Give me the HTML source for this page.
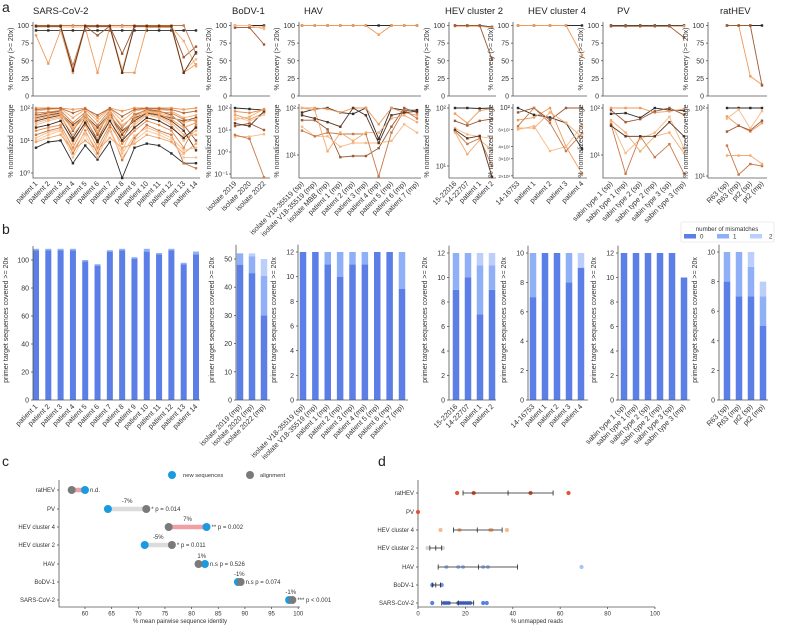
<!DOCTYPE html>
<html><head><meta charset="utf-8"><style>
html,body{margin:0;padding:0;background:#fff;}
svg{display:block;font-family:"Liberation Sans",sans-serif;}
</style></head><body>
<svg id="fig" width="799" height="628" viewBox="0 0 799 628"></svg>
<script>
// ---------- DATA ----------
const sarsCats=['patient 1','patient 2','patient 3','patient 4','patient 5','patient 6','patient 7','patient 8','patient 9','patient 10','patient 11','patient 12','patient 13','patient 14'];
const bodvCatsA=['isolate 2019','isolate 2020','isolate 2022'];
const bodvCatsB=['isolate 2019 (mp)','isolate 2020 (mp)','isolate 2022 (mp)'];
const havCatsA=['isolate V18-35519 (sp)','isolate V18-35519 (mp)','isolate MBB (mp)','patient 1 (mp)','patient 2 (mp)','patient 3 (mp)','patient 4 (mp)','patient 5 (mp)','patient 6 (mp)','patient 7 (mp)'];
const havCatsB=['isolate V18-35519 (sp)','isolate V18-35519 (mp)','patient 1 (mp)','patient 2 (mp)','patient 3 (mp)','patient 4 (mp)','patient 5 (mp)','patient 6 (mp)','patient 7 (mp)'];
const hev2Cats=['15-22016','14-22707','patient 1','patient 2'];
const hev4Cats=['14-16753','patient 1','patient 2','patient 3','patient 4'];
const pvCats=['sabin type 1 (sp)','sabin type 1 (mp)','sabin type 2 (sp)','sabin type 2 (mp)','sabin type 3 (sp)','sabin type 3 (mp)'];
const ratCats=['R63 (sp)','R63 (mp)','pt2 (sp)','pt2 (mp)'];

const sarsRec=[[93,93,93,93,93,93,93,93,93,93,93,93,93,93],[86,46,93,33,97,33,97,33,33,97,97,97,33,45],[99,99,99,43,99,86,99,60,99,99,99,99,55,70],[99,99,99,40,99,99,99,38,99,99,99,99,35,52],[100,100,100,100,100,100,100,100,100,100,100,100,100,60],[98,98,98,98,98,98,98,98,98,98,98,98,78,42],[99,99,99,36,99,99,99,33,99,99,99,99,33,62]];
const sarsCov=[[6,9,10,2,7,2.6,9,0.7,6,8,7,4,2,2],[100,100,100,90,100,50,100,80,100,100,100,100,90,100],[60,70,80,20,70,15,80,10,60,90,80,60,30,10],[30,40,50,8,40,8,50,5,30,60,50,30,10,20],[15,20,25,4,20,4,25,2.5,12,30,20,15,2,1.4],[80,90,95,50,90,40,95,40,80,95,90,80,50,60],[40,50,60,12,50,10,60,20,40,70,60,40,20,5],[20,25,30,6,30,6,30,8,20,40,30,20,6,30],[10,15,20,3,15,3,20,3,10,20,15,10,3,3],[50,60,70,30,60,25,70,15,50,70,60,50,40,50],[9,12,15,5,10,5,12,6,8,15,12,9,4,8],[70,75,85,35,75,30,85,25,65,85,75,70,45,40],[35,45,55,15,45,12,55,12,35,65,55,35,15,15],[25,30,40,10,35,9,40,10,25,50,40,25,12,25],[45,55,65,22,55,18,65,18,45,75,65,45,25,35],[12,18,22,5,18,5,22,4,14,25,18,12,5,6],[90,95,98,70,95,60,98,55,90,98,95,90,70,80],[55,65,75,25,65,20,75,30,55,80,70,55,35,45]];
const bodvRec=[[100,100,100],[97,97,98],[97,97,73],[100,100,95]];
const bodvCov=[[100,90,80],[50,30,60],[15,20,10],[5,5,6.5],[6,4,0.07],[30,40,90],[20,15,70],[70,60,85],[40,25,50]];
const havRec=[[100,100,100,100,100,100,100,100,100,100],[100,100,100,100,100,100,87,100,100,100]];
const havCov=[[80,95,100,80,75,100,22,100,90,90],[100,100,95,80,100,100,45,100,80,70],[55,55,35,9,9.5,9.5,14,40,100,80],[40,25,25,15,18,18,18,20,45,30],[33,25,30,28,28,28,3.5,30,90,60],[100,90,12,30,20,30,30,60,70,50],[70,60,50,40,100,70,18,70,80,85]];
const hev2Rec=[[100,100,100,98],[99,99,99,97],[100,100,100,52]];
const hev2Cov=[[100,100,98,100],[80,55,90,98],[60,50,60,65],[45,35,32,30],[40,24,30,10],[38,16,28,19],[42,30,33,6.5]];
const hev4Rec=[[100,100,100,100,100],[100,100,100,100,58]];
const hev4Cov=[[100,85,80,70,38],[75,80,100,40,21],[90,100,75,100,100],[60,65,36,40,65],[65,100,70,36,55],[62,62,90,70,50]];
const pvRec=[[100,100,100,100,100,100],[99,99,99,99,99,99],[99,99,99,99,99,83]];
const pvCov=[[75,78,62,100,90,88],[100,100,100,80,85,95],[90,50,58,85,100,72],[50,11,22,30,65,14],[45,4,25,9,17,4],[55,30,12,25,30,11],[42,25,25,25,50,25]];
const ratRec=[[100,100,100,100],[100,100,28,16],[100,100,100,15]];
const ratCov=[[100,100,100,100],[75,55,45,60],[45,55,47,65],[70,95,50,90],[28,10.5,15,14],[20,20,20,15]];

const sarsM0=[107,107,107,107,99,96,106,107,101,106,104,107,97,104];
const sarsM1=[1,1,1,1,1,1,1,1,1,2,1,1,1,2];
const sarsM2=[0,0,0,0,0,0,0,0,0,0,0,0,0,0];
const bodvM0=[48,45,30], bodvM1=[4,6,14], bodvM2=[0,1,6];
const havM0=[12,12,11,10,11,11,12,12,9], havM1=[0,0,1,2,1,1,0,0,3], havM2=[0,0,0,0,0,0,0,0,0];
const hev2M0=[9,10,7,9], hev2M1=[3,2,4,2], hev2M2=[0,0,1,1];
const hev4M0=[7,10,10,8,9], hev4M1=[3,0,0,2,0], hev4M2=[0,0,0,0,1];
const pvM0=[12,12,12,12,12,10], pvM1=[0,0,0,0,0,0], pvM2=[0,0,0,0,0,0];
const ratM0=[8,7,7,5], ratM1=[2,3,2,2], ratM2=[0,0,1,1];

const cCats=['ratHEV','PV','HEV cluster  4','HEV cluster  2','HAV','BoDV-1','SARS-CoV-2'];
const cNew=[60,64.3,82.8,71.2,82.5,88.7,98.3];
const cAln=[57.5,71.5,75.7,76.3,81.3,89.2,98.9];
const cPct=['','-7%','7%','-5%','1%','-1%','-1%'];
const cStat=['n.d.','* p = 0.014','** p = 0.002','* p = 0.011','n.s p = 0.526','n.s p = 0.074','*** p < 0.001'];
const cTicks=[60,65,70,75,80,85,90,95,100];

const dCats=['ratHEV','PV','HEV cluster  4','HEV cluster  2','HAV','BoDV-1','SARS-CoV-2'];
const dMean=[38,null,25,7.5,25.5,7.5,17];
const dLo=[19,null,15,5,8.5,6,10];
const dHi=[57,null,35.5,10,42,9.5,23.5];
const dPts=[[16.5,23.5,47.5,63.5],[0],[9.5,17.5,30.5,31,37.5],[4,10.5],[12,17,19,27.5,29.5,69],[6,10],[6,11,12,13,17,18,19,20,21,22,27.5,29]];
const dTicks=[0,20,40,60,80,100];

// ---------- HELPERS ----------
const NS='http://www.w3.org/2000/svg';
const svg=document.getElementById('fig');
function mk(tag,attrs,parent){const e=document.createElementNS(NS,tag);for(const k in attrs)e.setAttribute(k,attrs[k]);(parent||svg).appendChild(e);return e;}
function txt(x,y,s,attrs,parent){const t=mk('text',Object.assign({x:x,y:y},attrs||{}),parent);t.textContent=s;return t;}
const palette=['#2b2b2b','#ee9a5a','#9b5a35','#f7b985','#c87848','#f4ab70','#5a3320','#e88a4a','#f9c497','#7a4428','#f2a466','#d0844e','#f6b27a','#3d2a20','#eea060','#f8bd8c','#b86a3e','#f3ad74'];
const AX='#555', TX='#333';

// ---------- PANEL LETTERS ----------
[['a',2,12],['b',2,234],['c',2,466],['d',378,466]].forEach(function(p){
  const t=txt(p[1],p[2],p[0],{'font-size':14,fill:'#222'});
  
  
});

// ---------- PANEL A ----------
const aPanels=[
 {id:'sars',title:'SARS-CoV-2',tx:33,x0:33,x1:200,c0:36,c1:196,cats:sarsCats,rec:sarsRec,cov:sarsCov,pd:32.5,logT:['10²','10¹','10⁰']},
 {id:'bodv',title:'BoDV-1',tx:232,x0:231,x1:270,c0:235,c1:264,cats:bodvCatsA,rec:bodvRec,cov:bodvCov,pd:22,logT:['10²','10¹','10⁰','10⁻¹']},
 {id:'hav',title:'HAV',tx:304,x0:299,x1:421,c0:302,c1:417,cats:havCatsA,rec:havRec,cov:havCov,pd:47,logT:['10²','10¹']},
 {id:'hev2',title:'HEV cluster 2',tx:445,x0:449,x1:496,c0:455,c1:492,cats:hev2Cats,rec:hev2Rec,cov:hev2Cov,pd:58,logT:['10²','10¹']},
 {id:'hev4',title:'HEV cluster 4',tx:528,x0:513,x1:587,c0:518,c1:582,cats:hev4Cats,rec:hev4Rec,cov:hev4Cov,pd:97,logT:null},
 {id:'pv',title:'PV',tx:617,x0:603,x1:688,c0:611,c1:684,cats:pvCats,rec:pvRec,cov:pvCov,pd:47,logT:['10²','10¹']},
 {id:'rathev',title:'ratHEV',tx:720,x0:708,x1:767,c0:727,c1:762,cats:ratCats,rec:ratRec,cov:ratCov,pd:68,logT:['10²','10¹']}
];
const recY=function(v){return 96-v*0.705;};
aPanels.forEach(function(P){
  const g=mk('g',{});
  
  
  const t=txt(P.tx,14,P.title,{'font-size':9.5,fill:'#222'},g);
  
  
  const n=P.cats.length;
  const cx=function(i){return n===1?P.c0:P.c0+i*(P.c1-P.c0)/(n-1);};
  const covY=function(v){return 108+(2-Math.log10(v))*P.pd;};
  mk('path',{d:'M'+P.x0+' 22V96H'+P.x1,stroke:AX,fill:'none','stroke-width':0.8},g);
  [0,25,50,75,100].forEach(function(v){
    mk('line',{x1:P.x0-2,x2:P.x0,y1:recY(v),y2:recY(v),stroke:AX,'stroke-width':0.8},g);
    txt(P.x0-4,recY(v)+2.5,String(v),{'font-size':7,fill:TX,'text-anchor':'end'},g);
  });
  const yl=txt(0,0,'% recovery (>=  20x)',{'font-size':7,fill:TX,'text-anchor':'middle',transform:'translate('+(P.x0-20)+',59) rotate(-90)'},g);
  
  
  mk('path',{d:'M'+P.x0+' 104V178H'+P.x1,stroke:AX,fill:'none','stroke-width':0.8},g);
  if(P.logT){
    P.logT.forEach(function(s,k){
      const y=108+k*P.pd;
      mk('line',{x1:P.x0-2,x2:P.x0,y1:y,y2:y,stroke:AX,'stroke-width':0.8},g);
      txt(P.x0-3,y+2.5,s,{'font-size':7,fill:TX,'text-anchor':'end'},g);
    });
  } else {
    [[100,'10²'],[60,'6×10¹'],[40,'4×10¹'],[30,'3×10¹'],[20,'2×10¹']].forEach(function(p){
      const y=covY(p[0]);
      mk('line',{x1:P.x0-2,x2:P.x0,y1:y,y2:y,stroke:AX,'stroke-width':0.8},g);
      txt(P.x0-3,y+2,p[1],{'font-size':p[0]===100?7:4.5,fill:TX,'text-anchor':'end'},g);
    });
  }
  const yl2=txt(0,0,'% normalized coverage',{'font-size':7,fill:TX,'text-anchor':'middle',transform:'translate('+(P.x0-20)+',141) rotate(-90)'},g);
  
  
  function drawSeries(arr,yf,kind){
    arr.forEach(function(s,si){
      const col=palette[si%palette.length];
      const pts=s.map(function(v,i){return cx(i).toFixed(1)+','+yf(v).toFixed(1);}).join(' ');
      const pl=mk('polyline',{points:pts,fill:'none',stroke:col,'stroke-width':0.9},g);
      
      
      s.forEach(function(v,i){mk('rect',{x:cx(i)-1.2,y:yf(v)-1.2,width:2.4,height:2.4,fill:col},g);});
    });
  }
  drawSeries(P.rec,recY,'recovery');
  drawSeries(P.cov,covY,'coverage');
  P.cats.forEach(function(c,i){
    const x=cx(i)+2,y=184;
    const l=txt(x,y,c,{'font-size':7.2,fill:TX,'text-anchor':'end',transform:'rotate(-45 '+x+' '+y+')'},g);
    
    
  });
});

// ---------- PANEL B ----------
const bCols=['#5b7fe6','#8fb0f7','#bccffa'];
const bPanels=[
 {id:'sars',x0:33,x1:200,c0:36,c1:196,cats:sarsCats,m:[sarsM0,sarsM1,sarsM2],max:110,top:100,topY:260,ticks:[0,20,40,60,80,100],bw:6},
 {id:'bodv',x0:236,x1:270,c0:240,c1:264,cats:bodvCatsB,m:[bodvM0,bodvM1,bodvM2],max:55,top:50,topY:259,ticks:[0,10,20,30,40,50],bw:6.5},
 {id:'hav',x0:298,x1:408,c0:303,c1:402,cats:havCatsB,m:[havM0,havM1,havM2],max:12.6,top:12,topY:252,ticks:[0,2,4,6,8,10,12],bw:6.5},
 {id:'hev2',x0:449,x1:496,c0:456,c1:492,cats:hev2Cats,m:[hev2M0,hev2M1,hev2M2],max:12.6,top:12,topY:253,ticks:[0,2,4,6,8,10,12],bw:6.5},
 {id:'hev4',x0:528,x1:588,c0:533,c1:581,cats:hev4Cats,m:[hev4M0,hev4M1,hev4M2],max:10.5,top:10,topY:253,ticks:[0,2,4,6,8,10],bw:6.5},
 {id:'pv',x0:618,x1:690,c0:624,c1:684,cats:pvCats,m:[pvM0,pvM1,pvM2],max:12.6,top:12,topY:253,ticks:[0,2,4,6,8,10,12],bw:6.5},
 {id:'rathev',x0:719,x1:768,c0:727,c1:763,cats:ratCats,m:[ratM0,ratM1,ratM2],max:10.5,top:10,topY:252,ticks:[0,2,4,6,8,10],bw:6.5}
];
bPanels.forEach(function(P){
  const g=mk('g',{});
  
  
  const y0=400, k=(y0-P.topY)/P.top;
  const yf=function(v){return y0-v*k;};
  const n=P.cats.length;
  const cx=function(i){return P.c0+i*(P.c1-P.c0)/(n-1);};
  P.cats.forEach(function(c,i){
    let acc=0;
    for(let m=0;m<3;m++){
      const v=P.m[m][i];
      if(v>0){
        const r=mk('rect',{x:cx(i)-P.bw/2,y:yf(acc+v),width:P.bw,height:v*k,fill:bCols[m]},g);
        
        
      }
      acc+=v;
    }
    const x=cx(i)+2,y=407;
    const l=txt(x,y,c,{'font-size':7.2,fill:TX,'text-anchor':'end',transform:'rotate(-45 '+x+' '+y+')'},g);
    
    
  });
  mk('path',{d:'M'+P.x0+' '+yf(P.max)+'V'+y0+'H'+P.x1,stroke:AX,fill:'none','stroke-width':0.8},g);
  P.ticks.forEach(function(v){
    mk('line',{x1:P.x0-2,x2:P.x0,y1:yf(v),y2:yf(v),stroke:AX,'stroke-width':0.8},g);
    txt(P.x0-4,yf(v)+2.5,String(v),{'font-size':7,fill:TX,'text-anchor':'end'},g);
  });
  const yl=txt(0,0,'primer target sequences covered >=  20x',{'font-size':7,fill:TX,'text-anchor':'middle',transform:'translate('+(P.id==='sars'?8:P.x0-22)+',320) rotate(-90)'},g);
  
  
});
(function(){
  const g=mk('g',{});
  
  
  mk('rect',{x:681,y:222,width:93,height:20,fill:'#fff',stroke:'#ddd','stroke-width':0.6,rx:1.5},g);
  txt(727,231,'number of mismatches',{'font-size':6.2,fill:TX,'text-anchor':'middle'},g);
  ['0','1','2'].forEach(function(s,i){
    const e=mk('rect',{x:684+i*33,y:234,width:12,height:4.5,fill:bCols[i]},g);
    
    
    txt(700+i*33+(i===2?3:0),238.5,s,{'font-size':6.2,fill:TX},g);
  });
})();

// ---------- PANEL C ----------
const rowsY=[490,509,527,545,564,582,600];
const cx=function(v){return 85+(v-60)*5.33;};
(function(){
  const g=mk('g',{});
  
  
  const l1=mk('circle',{cx:172,cy:475,r:4,fill:'#1a9be0'},g);
  
  
  txt(183,477,'new sequences',{'font-size':5.8,fill:TX},g);
  const l2=mk('circle',{cx:250,cy:475,r:4,fill:'#7a7a7a'},g);
  
  
  txt(260,477,'alignment',{'font-size':5.8,fill:TX},g);
  mk('path',{d:'M59 480V607H300',stroke:AX,fill:'none','stroke-width':0.8},g);
  cTicks.forEach(function(v){
    mk('line',{x1:cx(v),x2:cx(v),y1:607,y2:609,stroke:AX,'stroke-width':0.8},g);
    txt(cx(v),615.5,String(v),{'font-size':6,fill:TX,'text-anchor':'middle'},g);
  });
  const xt=txt(180,623,'% mean pairwise sequence identity',{'font-size':6,fill:TX,'text-anchor':'middle'},g);
  
  
  cCats.forEach(function(c,i){
    const y=rowsY[i];
    mk('line',{x1:57,x2:59,y1:y,y2:y,stroke:AX,'stroke-width':0.8},g);
    txt(55,y+2,c,{'font-size':6,fill:TX,'text-anchor':'end'},g);
    const a=cx(cAln[i]),b=cx(cNew[i]);
    const seg=mk('line',{x1:a,x2:b,y1:y,y2:y,stroke:cNew[i]>cAln[i]?'#f0a0a4':'#dcdcdc','stroke-width':4.5},g);
    
    
    const p1=mk('circle',{cx:b,cy:y,r:4,fill:'#1a9be0'},g);
    
    
    const p2=mk('circle',{cx:a,cy:y,r:4,fill:'#7a7a7a'},g);
    
    
    if(cPct[i]) txt((a+b)/2,y-6,cPct[i],{'font-size':6,fill:TX,'text-anchor':'middle'},g);
    txt(Math.max(a,b)+5,y+2,cStat[i],{'font-size':6,fill:TX},g);
  });
})();

// ---------- PANEL D ----------
const dx=function(v){return 418+v*2.37;};
(function(){
  const g=mk('g',{});
  
  
  const dCols=['#e0553a','#e0553a','#f7b98f','#d5d5d5','#a8c4f7','#6e8ef0','#5b7fe6'];
  mk('path',{d:'M418 480V607H655',stroke:AX,fill:'none','stroke-width':0.8},g);
  dTicks.forEach(function(v){
    mk('line',{x1:dx(v),x2:dx(v),y1:607,y2:609,stroke:AX,'stroke-width':0.8},g);
    txt(dx(v),615.5,String(v),{'font-size':6,fill:TX,'text-anchor':'middle'},g);
  });
  const xt=txt(537,623,'% unmapped reads',{'font-size':6,fill:TX,'text-anchor':'middle'},g);
  
  
  dCats.forEach(function(c,i){
    const y=rowsY[i]+3;
    mk('line',{x1:416,x2:418,y1:y,y2:y,stroke:AX,'stroke-width':0.8},g);
    txt(414,y+2,c,{'font-size':6,fill:TX,'text-anchor':'end'},g);
    dPts[i].forEach(function(v,j){
      const p=mk('circle',{cx:dx(v),cy:y,r:2.1,fill:dCols[i]},g);
      
      
    });
    if(dMean[i]!==null){
      const e=mk('path',{d:'M'+dx(dLo[i])+' '+y+'H'+dx(dHi[i])+'M'+dx(dLo[i])+' '+(y-2.5)+'V'+(y+2.5)+'M'+dx(dHi[i])+' '+(y-2.5)+'V'+(y+2.5)+'M'+dx(dMean[i])+' '+(y-2.5)+'V'+(y+2.5),stroke:'#222',fill:'none','stroke-width':0.8},g);
      
      
    }
  });
})();
</script>
</body></html>
